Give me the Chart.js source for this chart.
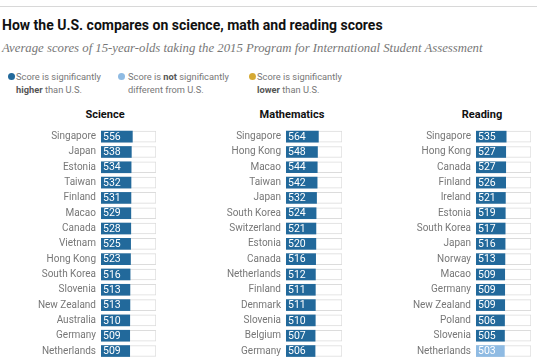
<!DOCTYPE html>
<html>
<head>
<meta charset="utf-8">
<script src="https://cdn.jsdelivr.net/npm/chart.js@4.4.1/dist/chart.umd.min.js"></script>
<style>
  html, body { margin: 0; padding: 0; background: #fff; }
  body { width: 537px; height: 360px; overflow: hidden; position: relative; font-family: Roboto, sans-serif; }
  .rule { position: absolute; left: 0; top: 6px; width: 537px; height: 1px; background: #d8d8d8; }
  .title { position: absolute; left: 2px; top: 17px; font: bold 14px/16px Roboto, sans-serif; color: #111; white-space: nowrap; }
  .sub { position: absolute; left: 2px; top: 40px; font: italic 12.75px/16px "Liberation Serif", serif; color: #777; white-space: nowrap; }
  .leg { position: absolute; top: 70px; font: 9.3px/13px Roboto, sans-serif; color: #777; white-space: nowrap; }
  .leg b { color: #555; }
  .dot { position: absolute; left: -8px; top: 3px; width: 7px; height: 7px; border-radius: 50%; }
  .head { position: absolute; top: 108px; font: bold 11px/14px Roboto, sans-serif; color: #111; transform: translateX(-50%); white-space: nowrap; }
  canvas { position: absolute; }
</style>
</head>
<body>
<div class="rule"></div>
<div class="title">How the U.S. compares on science, math and reading scores</div>
<div class="sub">Average scores of 15-year-olds taking the 2015 Program for International Student Assessment</div>

<div class="leg" style="left:16px"><span class="dot" style="background:#22699b"></span>Score is significantly<br><b>higher</b> than U.S.</div>
<div class="leg" style="left:128px"><span class="dot" style="left:-10px;background:#8fbbe3"></span>Score is <b>not</b> significantly<br>different from U.S.</div>
<div class="leg" style="left:257px"><span class="dot" style="background:#d5a933"></span>Score is significantly<br><b>lower</b> than U.S.</div>

<div class="head" style="left:105px">Science</div>
<div class="head" style="left:292px">Mathematics</div>
<div class="head" style="left:482px">Reading</div>

<canvas id="c-science" width="157" height="267" style="left:0;top:118px"></canvas>
<canvas id="c-math" width="163" height="267" style="left:180px;top:118px"></canvas>
<canvas id="c-reading" width="172" height="267" style="left:360px;top:118px"></canvas>

<script>
// --- datos ---
const scienceCountries = ['Singapore', 'Japan', 'Estonia', 'Taiwan', 'Finland', 'Macao', 'Canada', 'Vietnam',
  'Hong Kong', 'South Korea', 'Slovenia', 'New Zealand', 'Australia', 'Germany', 'Netherlands', 'United Kingdom'];
const scienceScores = [556, 538, 534, 532, 531, 529, 528, 525, 523, 516, 513, 513, 510, 509, 509, 509];
const scienceSig = ['h', 'h', 'h', 'h', 'h', 'h', 'h', 'h', 'h', 'h', 'h', 'h', 'h', 'h', 'h', 'h'];

const mathCountries = ['Singapore', 'Hong Kong', 'Macao', 'Taiwan', 'Japan', 'South Korea', 'Switzerland', 'Estonia',
  'Canada', 'Netherlands', 'Finland', 'Denmark', 'Slovenia', 'Belgium', 'Germany', 'Poland'];
const mathScores = [564, 548, 544, 542, 532, 524, 521, 520, 516, 512, 511, 511, 510, 507, 506, 504];
const mathSig = ['h', 'h', 'h', 'h', 'h', 'h', 'h', 'h', 'h', 'h', 'h', 'h', 'h', 'h', 'h', 'h'];

const readingCountries = ['Singapore', 'Hong Kong', 'Canada', 'Finland', 'Ireland', 'Estonia', 'South Korea', 'Japan',
  'Norway', 'Macao', 'Germany', 'New Zealand', 'Poland', 'Slovenia', 'Netherlands', 'Australia'];
const readingScores = [535, 527, 527, 526, 521, 519, 517, 516, 513, 509, 509, 509, 506, 505, 503, 503];
const readingSig = ['h', 'h', 'h', 'h', 'h', 'h', 'h', 'h', 'h', 'h', 'h', 'h', 'h', 'h', 'n', 'n'];

// colores
const SIG_COLORS = { h: '#22699b', n: '#8fbbe3', l: '#d5a933' };
const SCALE_MAX = 975; // the white box is the full scale

// numbers written inside the bar
const valueLabels = {
  id: 'valueLabels',
  afterDatasetsDraw(chart) {
    const ctx = chart.ctx;
    const meta = chart.getDatasetMeta(0);
    const data = chart.data.datasets[0].data;
    ctx.save();
    ctx.font = '10.5px Roboto, sans-serif';
    ctx.fillStyle = '#fff';
    ctx.textAlign = 'left';
    ctx.textBaseline = 'middle';
    meta.data.forEach((bar, i) => {
      ctx.fillText(data[i], Math.min(bar.base, bar.x) + 2, bar.y + 0.5);
    });
    ctx.restore();
  }
};

function makeChart(id, labels, scores, sig, axisWidth) {
  new Chart(document.getElementById(id), {
    type: 'bar',
    data: {
      labels: labels,
      datasets: [{
        data: scores,
        backgroundColor: sig.map(s => SIG_COLORS[s]),
        borderWidth: 0,
        barThickness: 11,
        grouped: false,
        order: 0
      }, {
        data: scores.map(() => SCALE_MAX),
        backgroundColor: '#fff',
        borderColor: '#dcdcdc',
        borderWidth: 1,
        borderSkipped: false,
        barThickness: 11,
        grouped: false,
        order: 1
      }]
    },
    options: {
      indexAxis: 'y',
      responsive: false,
      animation: false,
      layout: { padding: { right: 1 } },
      plugins: { legend: { display: false }, tooltip: { enabled: false } },
      scales: {
        x: { display: false, min: 0, max: SCALE_MAX },
        y: {
          grid: { display: false, drawTicks: false },
          border: { display: false },
          ticks: { padding: 5, color: '#777', font: { family: 'Roboto', size: 10 } },
          afterFit(scale) { scale.width = axisWidth; }
        }
      }
    },
    plugins: [valueLabels]
  });
}

makeChart('c-science', scienceCountries, scienceScores, scienceSig, 101);
makeChart('c-math', mathCountries, mathScores, mathSig, 106);
makeChart('c-reading', readingCountries, readingScores, readingSig, 116);
</script>
</body>
</html>
